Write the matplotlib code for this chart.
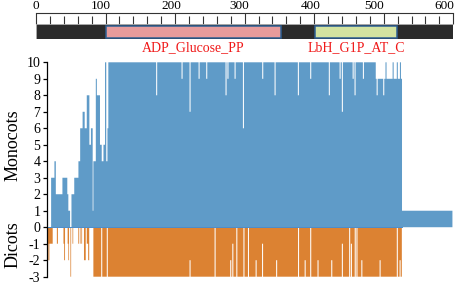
import numpy as np
import matplotlib
matplotlib.use("Agg")
import matplotlib.pyplot as plt
from matplotlib.patches import Rectangle
from matplotlib.transforms import ScaledTranslation

plt.rcParams['font.family'] = ['Liberation Serif', 'DejaVu Serif']
plt.rcParams['axes.unicode_minus'] = False

# ---------------- data ----------------
protein_length = 600
ruler_major = [0, 100, 200, 300, 400, 500, 600]

domain_names = ["ADP_Glucose_PP", "LbH_G1P_AT_C"]
domain_start = [100, 401]
domain_end = [352, 519]
domain_colors = ["#e79b9b", "#d3e3a0"]

# Monocots: runs (start residue, value), each run lasts until the next start
mono_run_start = [14, 21.6, 26.4, 28.3, 37.9, 45.0, 46.5, 49.0, 50.8, 55.0, 61.0,
                  63.4, 67.0, 70.0, 72.9, 76.7, 79.0, 81.5, 82.4, 85.8, 87.3, 92.0,
                  94.4, 96.8, 99.2, 101.0, 102.6, 104.0, 488.4, 526.2, 598.6]
mono_run_value = [0, 3, 4, 2, 3, 2, 1, 0, 2, 3, 4,
                  6, 7, 6, 8, 5, 6, 1, 4, 9, 8, 5,
                  4, 5, 10, 4, 6, 10, 9, 1, 0]
# Monocots: single-residue deviations (position, value)
mono_mark_pos = [173.5, 210, 221.4, 234.4, 245.4, 273.2, 276, 286.1, 298.1, 326,
                 343.6, 377.1, 395, 421.7, 437.1, 440.4, 455.8, 458.7, 470.6,
                 490.3, 500, 503.2, 513.3, 519.5, 524]
mono_mark_val = [8, 9, 7, 9, 9, 8, 9, 9, 6, 9,
                 8, 8, 9, 8, 9, 7, 9, 8, 9,
                 8, 8, 10, 10, 10, 10]

# Dicots: runs (start residue, value)
dicot_run_start = [14, 24, 30, 31.5, 39.3, 40.3, 41.7, 45.5, 46.5, 47.5, 49.5, 50.5,
                   52.3, 53.3, 60.3, 61.3, 62.8, 63.8, 65.2, 66.2, 69, 71.5, 73, 75,
                   76.5, 82.4, 525.8]
dicot_run_value = [-1, 0, -1, 0, -1, -2, 0, -1, -2, 0, -3, 0,
                   -1, 0, -1, 0, -1, 0, -1, 0, -2, 0, -1, -2,
                   0, -3, 0]
# Dicots: single-residue deviations (position, value)
dicot_mark_pos = [18.5, 94.5, 102.5, 221.4, 257.4, 280, 283, 288.6, 299, 305.5,
                  316.3, 325.7, 346, 377.4, 386.8, 395, 405.5, 425.2, 440.4, 450.8,
                  453.5, 459, 461.5, 468.3, 494.6, 519.3, 523.4]
dicot_mark_val = [-2, 0, 0, -2, 0, -2, -1, 0, 0, 0,
                  -2, -1, -2, 0, -2, 0, -2, -2, -1, 0,
                  -1, 0, 0, -2, -2, 0, -2]

y_ticks = list(range(-3, 11))


def build_profile(grid, starts, values, mark_pos, mark_val, half=0.75):
    idx = np.searchsorted(np.array(starts), grid, side='right') - 1
    idx = np.clip(idx, 0, len(values) - 1)
    prof = np.array(values, dtype=float)[idx]
    for p, v in zip(mark_pos, mark_val):
        prof[(grid >= p - half) & (grid < p + half)] = v
    return prof


# ---------------- figure ----------------
W, H = 459, 286
fig = plt.figure(figsize=(W / 100, H / 100), dpi=100)

def fx(px):
    return px / W

def fy(py):
    return 1 - py / H

# ruler (ticks) axes
ax_r = fig.add_axes([fx(36), fy(24), fx(453.3) - fx(36), fy(13.3) - fy(24)])
ax_r.set_xlim(0, protein_length)
ax_r.set_ylim(0, 1)
for s in ['left', 'right', 'bottom']:
    ax_r.spines[s].set_visible(False)
ax_r.spines['top'].set_color('#333333')
ax_r.spines['top'].set_linewidth(0.8)
ax_r.set_xticks(ruler_major)
ax_r.set_xticks(np.arange(0, protein_length + 1, 20), minor=True)
ax_r.set_yticks([])
ax_r.tick_params(axis='x', which='both', bottom=True, top=False, labelbottom=False,
                 labeltop=True, direction='in', color='#333333', width=0.8,
                 labelsize=9.5, pad=1)
ax_r.tick_params(axis='x', which='major', length=7.7)
ax_r.tick_params(axis='x', which='minor', length=5.6)
ax_r.patch.set_visible(False)
label_shift_px = [0, -5, -4, -5, -4, -10, -9]
for lab, dx in zip(ax_r.xaxis.get_majorticklabels(), label_shift_px):
    lab.set_transform(lab.get_transform() + ScaledTranslation(dx / 100, 0, fig.dpi_scale_trans))

# domain bar axes
ax_d = fig.add_axes([fx(36), fy(39.3), fx(453.3) - fx(36), fy(24) - fy(39.3)])
ax_d.set_xlim(0, protein_length)
ax_d.set_ylim(0, 1)
ax_d.axis('off')
ax_d.add_patch(Rectangle((0, 0), protein_length, 1, facecolor='#2b2b2b',
                         edgecolor='#b0b0b0', linewidth=0.5))
for s, e, c in zip(domain_start, domain_end, domain_colors):
    ax_d.add_patch(Rectangle((s, 0.1), e - s, 0.8, facecolor=c,
                             edgecolor='#2d5f93', linewidth=1.1))
for name, s, e in zip(domain_names, domain_start, domain_end):
    fig.text(fx(36) + (s + e) / 2 / protein_length * (fx(453.3) - fx(36)), fy(47.5),
             name, color='#f01818', fontsize=10, ha='center', va='center')

# main axes
x_left = 15.1
ax = fig.add_axes([fx(46.5), fy(276.7), fx(453.3) - fx(46.5), fy(62.3) - fy(276.7)])
ax.set_xlim(x_left, protein_length)
ax.set_ylim(-3, 10)

grid = np.arange(14, protein_length + 0.25, 0.25)
mono = build_profile(grid, mono_run_start, mono_run_value, mono_mark_pos, mono_mark_val)
dicot = build_profile(grid, dicot_run_start, dicot_run_value, dicot_mark_pos, dicot_mark_val)

ax.fill_between(grid, 0, mono, step='post', facecolor='#5f9bc8', edgecolor='none',
                linewidth=0)
ax.fill_between(grid, 0, dicot, step='post', facecolor='#dc8232', edgecolor='none',
                linewidth=0)
ax.axhline(0, xmin=0.0, xmax=(526.2 - x_left) / (protein_length - x_left),
           color='#4a8ccc', linewidth=0.7)

for s in ['top', 'right', 'bottom']:
    ax.spines[s].set_visible(False)
ax.spines['left'].set_linewidth(0.9)
ax.set_xticks([])
ax.set_yticks(y_ticks)
ax.set_yticklabels([str(t) for t in y_ticks])
ax.tick_params(axis='y', length=3, width=0.9, labelsize=10, pad=1.5)

fig.text(fx(13), fy(145), "Monocots", rotation=90, fontsize=13, ha='center', va='center')
fig.text(fx(13), fy(245), "Dicots", rotation=90, fontsize=13, ha='center', va='center')

fig.savefig("out.png", dpi=100)
